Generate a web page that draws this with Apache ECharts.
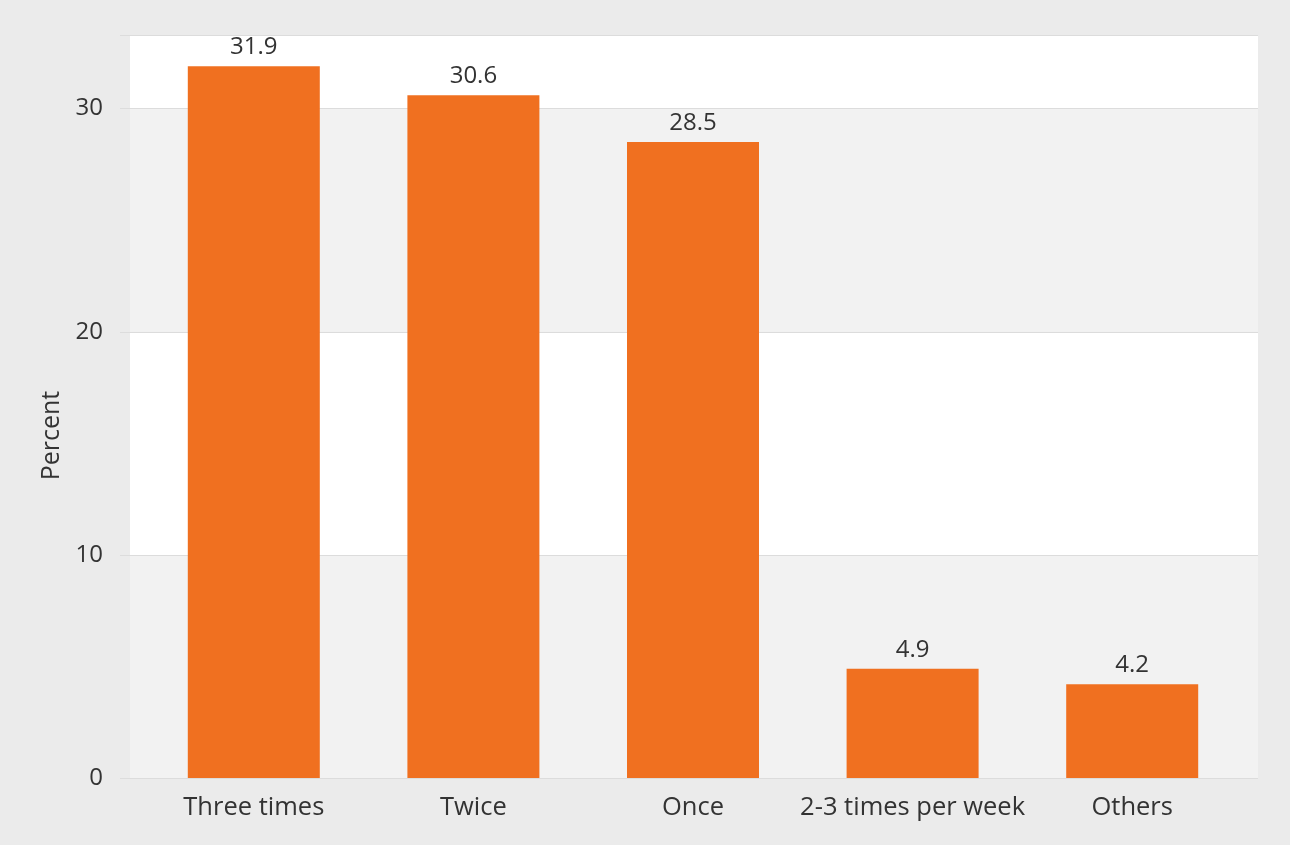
<!DOCTYPE html>
<html><head><meta charset="utf-8">
<script src="https://cdn.jsdelivr.net/npm/echarts@6/dist/echarts.min.js"></script>
<style>html,body{margin:0;padding:0;background:#ebebeb}#c{width:1290px;height:845px}</style>
</head><body><div id="c"></div>
<script>
const categories = ["Three times", "Twice", "Once", "2-3 times per week", "Others"];
const values = [31.9, 30.6, 28.5, 4.9, 4.2];
const yTicks = [0, 10, 20, 30];
const yMax = 33.3;
const font = "'Open Sans', 'Noto Sans', sans-serif";

const chart = echarts.init(document.getElementById('c'), null, {renderer: 'canvas'});
chart.setOption({
  backgroundColor: '#ebebeb',
  animation: false,
  grid: [
    {left: 130, right: 32, top: 35, bottom: 67},
    {left: 144, right: 48, top: 35, bottom: 67}
  ],
  xAxis: [
    {type: 'category', gridIndex: 0, data: categories, show: false},
    {type: 'category', gridIndex: 1, data: categories,
     axisLine: {show: false}, axisTick: {show: false},
     axisLabel: {color: '#333', fontSize: 25.5, fontFamily: font, margin: 17, interval: 0}}
  ],
  yAxis: [
    {type: 'value', gridIndex: 0, min: 0, max: yMax, interval: 10,
     name: 'Percent', nameLocation: 'middle', nameGap: 65, nameRotate: 90,
     nameTextStyle: {color: '#333', fontSize: 25, fontFamily: font, padding: [0, 58, 0, 0]},
     axisLine: {show: false},
     axisTick: {show: true, length: 10, lineStyle: {color: '#dcdcdc'}},
     axisLabel: {color: '#333', fontSize: 24, fontFamily: font, margin: 27,
                 formatter: v => yTicks.includes(v) ? String(v) : ''},
     splitLine: {show: true, lineStyle: {color: '#dcdcdc', width: 1}},
     splitArea: {show: true, areaStyle: {color: ['#f2f2f2', '#ffffff']}}},
    {type: 'value', gridIndex: 1, min: 0, max: yMax, interval: 10, show: false,
     splitLine: {show: false}}
  ],
  series: [{
    type: 'bar', xAxisIndex: 1, yAxisIndex: 1, data: values, barWidth: 132,
    itemStyle: {color: '#f07020'},
    label: {show: true, position: 'top', distance: 7, color: '#333', fontSize: 24, fontFamily: font}
  }]
});
</script></body></html>
